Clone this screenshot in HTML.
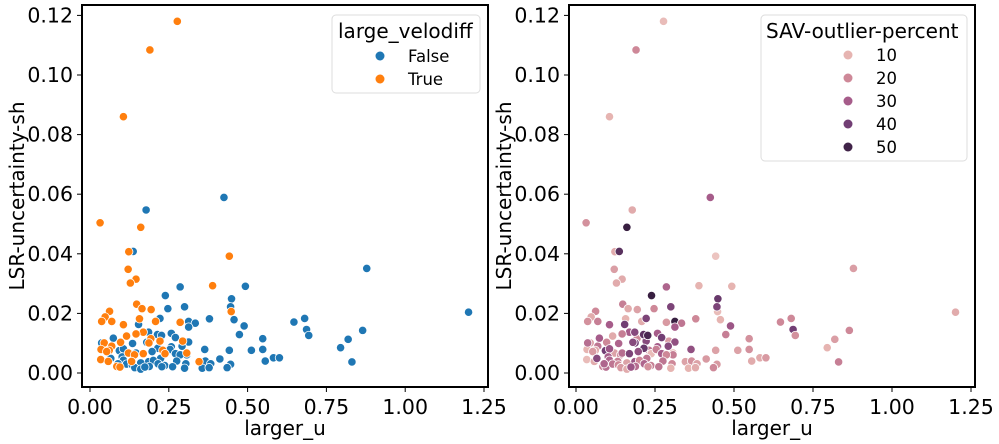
<!DOCTYPE html>
<html><head><meta charset="utf-8"><style>
body{margin:0;background:#fff;}
svg{display:block;font-family:"DejaVu Sans","Liberation Sans",sans-serif;}
</style></head><body>
<svg id="c" width="999" height="444" xmlns="http://www.w3.org/2000/svg"></svg>
<script>
const xTicks=[0,0.25,0.5,0.75,1.0,1.25];
const xTickLabels=["0.00","0.25","0.50","0.75","1.00","1.25"];
const yTicks=[0,0.02,0.04,0.06,0.08,0.10,0.12];
const yTickLabels=["0.00","0.02","0.04","0.06","0.08","0.10","0.12"];
// orange (large_velodiff = True)
const tX=[0.277,0.190,0.106,0.032,0.161,0.123,0.121,0.146,0.128,0.442,0.389,0.448,0.148,0.194,0.165,0.062,0.048,0.037,0.069,0.157,0.208,0.106,0.286,0.169,0.146,0.116,0.193,0.222,0.294,0.097,0.045,0.187,0.069,0.035,0.061,0.231,0.122,0.307,0.169,0.238,0.141,0.053,0.034,0.058,0.132,0.346,0.085,0.095];
const tY=[0.118,0.1084,0.086,0.0504,0.0489,0.0407,0.0348,0.0315,0.0302,0.0392,0.0293,0.0206,0.0231,0.0213,0.0216,0.0207,0.0188,0.0173,0.0173,0.0182,0.0173,0.0162,0.0170,0.0137,0.0131,0.0124,0.0115,0.0107,0.0107,0.0103,0.0101,0.0101,0.0090,0.0079,0.0076,0.0076,0.0067,0.0067,0.0065,0.0065,0.0061,0.0072,0.0045,0.0039,0.0039,0.0038,0.0022,0.0020];
const tSav=[8,20,10,18,52,12,15,12,12,6,10,8,22,14,12,20,12,18,22,10,12,30,16,30,22,12,20,36,16,20,14,40,24,10,12,24,14,10,10,8,20,16,8,12,22,14,22,26];
// blue (large_velodiff = False)
const fX=[0.425,0.178,0.137,0.878,0.286,0.493,0.239,0.449,0.300,0.446,0.247,1.201,0.222,0.379,0.457,0.313,0.334,0.647,0.681,0.154,0.313,0.489,0.687,0.865,0.186,0.258,0.474,0.694,0.214,0.227,0.074,0.548,0.271,0.819,0.135,0.313,0.180,0.037,0.258,0.292,0.795,0.364,0.093,0.442,0.512,0.548,0.106,0.215,0.254,0.146,0.197,0.271,0.169,0.307,0.286,0.066,0.102,0.582,0.601,0.412,0.224,0.106,0.366,0.556,0.831,0.275,0.186,0.201,0.161,0.089,0.116,0.383,0.134,0.446,0.304,0.216,0.237,0.142,0.161,0.228,0.262,0.300,0.356,0.378,0.435,0.188,0.174];
const fY=[0.0589,0.0547,0.0408,0.0351,0.0289,0.0291,0.0260,0.0249,0.0222,0.0222,0.0216,0.0204,0.0183,0.0182,0.0179,0.0173,0.0167,0.0171,0.0183,0.0163,0.0154,0.0158,0.0146,0.0143,0.0137,0.0133,0.0129,0.0126,0.0129,0.0126,0.0117,0.0115,0.0119,0.0113,0.0099,0.0104,0.0103,0.0101,0.0088,0.0090,0.0085,0.0079,0.0075,0.0076,0.0076,0.0079,0.0081,0.0083,0.0079,0.0067,0.0072,0.0065,0.0065,0.0061,0.0061,0.0049,0.0054,0.0051,0.0051,0.0047,0.0049,0.0043,0.0040,0.0040,0.0037,0.0040,0.0038,0.0042,0.0034,0.0031,0.0030,0.0031,0.0027,0.0029,0.0031,0.0031,0.0025,0.0018,0.0013,0.0021,0.0021,0.0016,0.0016,0.0018,0.0018,0.0022,0.0020];
const fSav=[30,12,45,15,28,10,52,42,38,38,20,12,38,20,10,52,24,20,20,40,30,32,40,20,36,30,22,18,44,48,30,18,40,15,28,34,36,26,30,36,10,34,40,14,14,18,32,42,22,26,34,30,38,22,20,36,30,12,16,16,24,28,18,12,22,24,32,20,14,28,24,14,20,16,20,28,22,16,12,18,24,10,10,12,20,26,32];
const savLegend=[10,20,30,40,50];

const svg=document.getElementById('c');
const NS='http://www.w3.org/2000/svg';
function mk(tag,attrs,parent){const e=document.createElementNS(NS,tag);for(const k in attrs)e.setAttribute(k,attrs[k]);(parent||svg).appendChild(e);return e;}
function savColor(v){
  const stops=[[5,[238,200,196]],[10,[230,180,177]],[20,[206,136,152]],[30,[166,92,138]],[40,[114,62,116]],[50,[64,35,72]],[55,[45,25,55]]];
  v=Math.max(5,Math.min(55,v));
  for(let i=0;i<stops.length-1;i++){const a=stops[i],b=stops[i+1];if(v<=b[0]){const t=(v-a[0])/(b[0]-a[0]);const c=a[1].map((x,j)=>Math.round(x+(b[1][j]-x)*t));return `rgb(${c})`;}}
}
function panel(name,box,x0px,x125px,colorFn,pts,legendFn){
  const g=mk('g',{});
  
  
  const xs=v=>x0px+(x125px-x0px)*v/1.25;
  const ys=v=>373-v/0.02*59.6;
  const pg=mk('g',{},g);
  
  
  pts.forEach(p=>{
    const c=mk('circle',{cx:xs(p.x),cy:ys(p.y),r:4.2,fill:colorFn(p),stroke:'#fff','stroke-width':0.8},pg);
    
    
  });
  const fr=mk('rect',{x:box[0],y:box[1],width:box[2]-box[0],height:box[3]-box[1],fill:'none',stroke:'#000','stroke-width':2},g);
  
  
  xTicks.forEach((t,i)=>{
    const x=xs(t);
    mk('line',{x1:x,x2:x,y1:box[3],y2:box[3]+5,stroke:'#000','stroke-width':1},g);
    const tx=mk('text',{x:x,y:box[3]+27,'text-anchor':'middle','font-size':20.5},g);
    tx.textContent=xTickLabels[i];
    
    
  });
  yTicks.forEach((t,i)=>{
    const y=ys(t);
    mk('line',{x1:box[0]-5,x2:box[0],y1:y,y2:y,stroke:'#000','stroke-width':1},g);
    const tx=mk('text',{x:box[0]-9,y:y+7,'text-anchor':'end','font-size':20.5},g);
    tx.textContent=yTickLabels[i];
    
    
  });
  const xl=mk('text',{x:(box[0]+box[2])/2,y:435,'text-anchor':'middle','font-size':20},g);
  xl.textContent='larger_u';
  
  
  const yl=mk('text',{x:0,y:0,'text-anchor':'middle','font-size':20,transform:`translate(${box[0]-58},196) rotate(-90)`},g);
  yl.textContent='LSR-uncertainty-sh';
  
  
  legendFn(g);
}
const all=[];
tX.forEach((x,i)=>all.push({x,y:tY[i],v:1,s:tSav[i]}));
fX.forEach((x,i)=>all.push({x,y:fY[i],v:0,s:fSav[i]}));
const ptsA=all.filter(p=>p.v===0).concat(all.filter(p=>p.v===1));
panel('left-panel',[82,5,488,387],90,484,p=>p.v?'#ff7f0e':'#1f77b4',ptsA,g=>{
  const lg=mk('g',{},g);
  
  
  mk('rect',{x:332,y:15,width:148,height:78,rx:4,fill:'#fff','fill-opacity':0.8,stroke:'#ddd'},lg);
  const t=mk('text',{x:338,y:38,'font-size':20},lg);t.textContent='large_velodiff';
  [['False','#1f77b4'],['True','#ff7f0e']].forEach((e,i)=>{
    const en=mk('g',{},lg);
    
    
    mk('circle',{cx:380,cy:56+i*23,r:4.5,fill:e[1]},en);
    const tx=mk('text',{x:408,y:62+i*23,'font-size':16.5},en);tx.textContent=e[0];
  });
});
panel('right-panel',[569,5,975,387],576,971,p=>savColor(p.s),all,g=>{
  const lg=mk('g',{},g);
  
  
  mk('rect',{x:761,y:15,width:206,height:146,rx:4,fill:'#fff','fill-opacity':0.8,stroke:'#ddd'},lg);
  const t=mk('text',{x:766,y:38,'font-size':20},lg);t.textContent='SAV-outlier-percent';
  savLegend.forEach((v,i)=>{
    const en=mk('g',{},lg);
    
    
    mk('circle',{cx:848,cy:55+i*23,r:4.5,fill:savColor(v)},en);
    const tx=mk('text',{x:876,y:61+i*23,'font-size':16.5},en);tx.textContent=String(v);
  });
});
</script>
</body></html>
